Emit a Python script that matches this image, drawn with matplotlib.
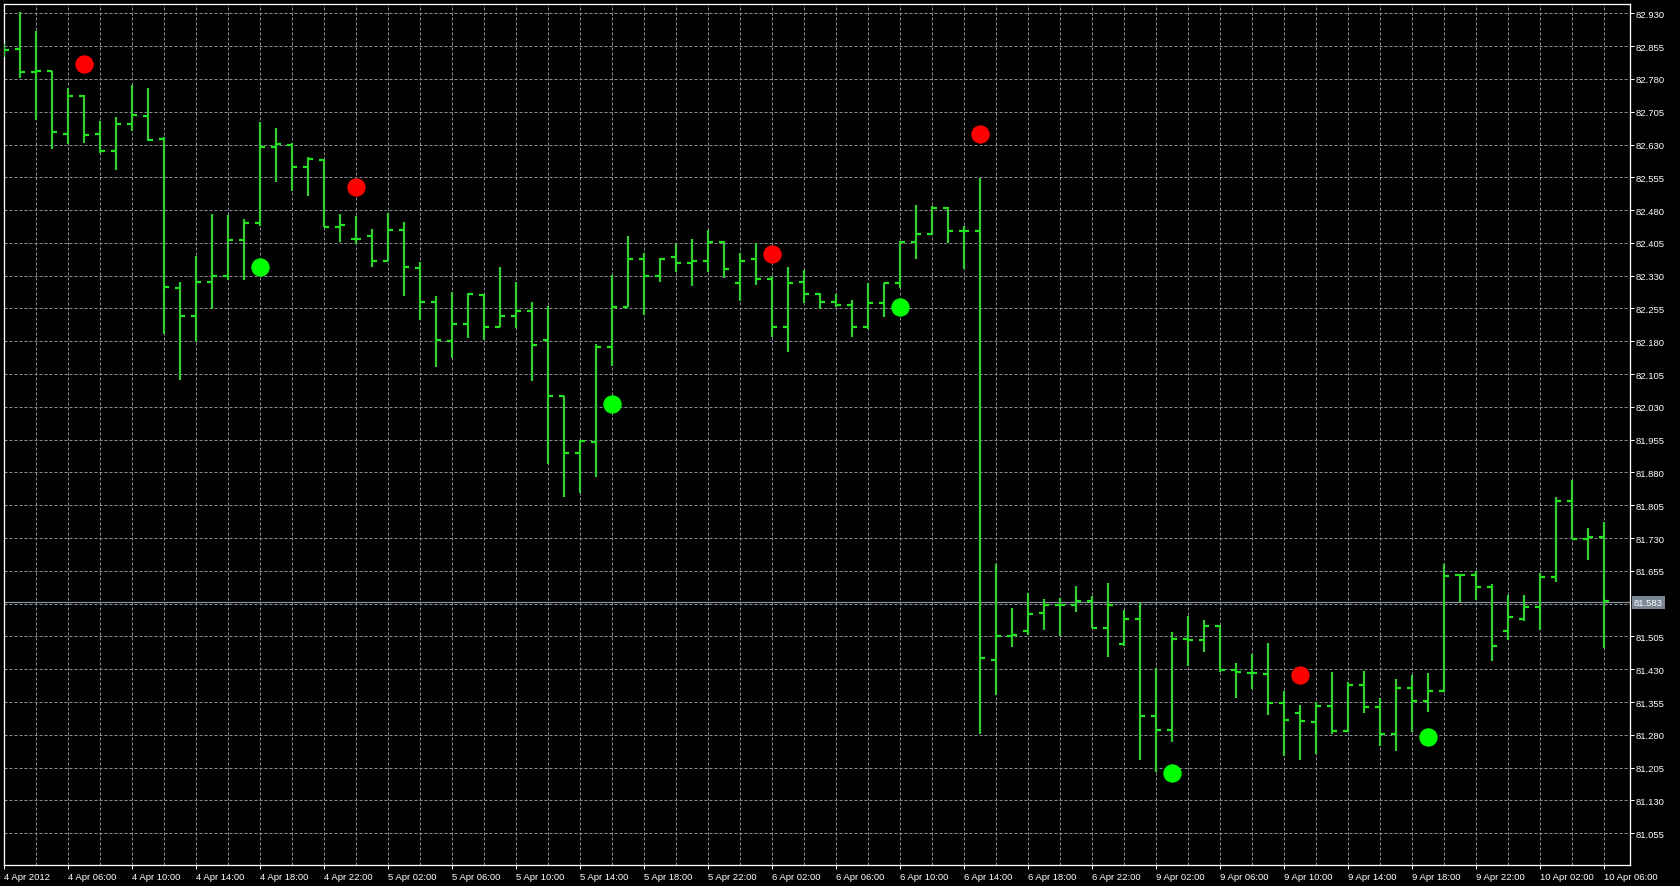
import matplotlib.pyplot as plt
import numpy as np

# hourly bars, 4 Apr 2012 02:00 .. 10 Apr 2012 06:00
opens = [82.840, 82.849, 82.796, 82.798, 82.655, 82.741, 82.655, 82.616, 82.678, 82.695,
         82.643, 82.303, 82.238, 82.316, 82.330, 82.412, 82.450, 82.625, 82.630, 82.579,
         82.595, 82.441, 82.414, 82.421, 82.364, 82.435, 82.348, 82.270, 82.181, 82.219,
         82.286, 82.213, 82.238, 82.250, 82.183, 82.056, 81.925, 81.950, 82.168, 82.259,
         82.368, 82.330, 82.372, 82.358, 82.364, 82.408, 82.313, 82.368, 82.322, 82.213,
         82.316, 82.287, 82.269, 82.264, 82.213, 82.267, 82.313, 82.406, 82.425, 82.484,
         82.433, 82.433, 81.451, 81.507, 81.518, 81.559, 81.577, 81.577, 81.585, 81.524,
         81.488, 81.545, 81.322, 81.291, 81.499, 81.497, 81.530, 81.428, 81.421, 81.419,
         81.352, 81.329, 81.310, 81.347, 81.289, 81.394, 81.343, 81.282, 81.387, 81.358,
         81.381, 81.646, 81.646, 81.617, 81.518, 81.544, 81.573, 81.640, 81.815, 81.729,
         81.732]
highs = [82.860, 82.932, 82.890, 82.798, 82.760, 82.743, 82.684, 82.692, 82.767, 82.760,
         82.647, 82.315, 82.374, 82.471, 82.469, 82.460, 82.681, 82.667, 82.633, 82.601,
         82.595, 82.471, 82.467, 82.437, 82.473, 82.453, 82.361, 82.284, 82.292, 82.290,
         82.287, 82.349, 82.315, 82.269, 82.260, 82.056, 81.955, 82.174, 82.332, 82.421,
         82.382, 82.370, 82.402, 82.414, 82.434, 82.410, 82.383, 82.404, 82.329, 82.349,
         82.343, 82.290, 82.288, 82.274, 82.313, 82.313, 82.410, 82.492, 82.489, 82.486,
         82.444, 82.553, 81.671, 81.570, 81.604, 81.590, 81.593, 81.620, 81.597, 81.627,
         81.565, 81.582, 81.434, 81.515, 81.551, 81.543, 81.532, 81.444, 81.466, 81.489,
         81.380, 81.349, 81.354, 81.423, 81.402, 81.425, 81.364, 81.408, 81.417, 81.421,
         81.671, 81.648, 81.655, 81.625, 81.600, 81.600, 81.650, 81.823, 81.863, 81.752,
         81.766]
lows = [82.830, 82.781, 82.686, 82.620, 82.632, 82.634, 82.610, 82.571, 82.661, 82.638,
        82.197, 82.092, 82.178, 82.254, 82.321, 82.321, 82.443, 82.545, 82.524, 82.513,
        82.441, 82.408, 82.402, 82.349, 82.364, 82.283, 82.229, 82.121, 82.141, 82.187,
        82.184, 82.213, 82.210, 82.090, 81.899, 81.823, 81.833, 81.869, 82.124, 82.258,
        82.240, 82.315, 82.339, 82.307, 82.339, 82.324, 82.273, 82.309, 82.189, 82.156,
        82.267, 82.253, 82.258, 82.189, 82.208, 82.235, 82.301, 82.368, 82.422, 82.405,
        82.345, 81.282, 81.372, 81.482, 81.509, 81.520, 81.505, 81.562, 81.524, 81.457,
        81.484, 81.223, 81.194, 81.263, 81.437, 81.469, 81.423, 81.364, 81.386, 81.326,
        81.232, 81.223, 81.236, 81.282, 81.286, 81.330, 81.254, 81.243, 81.287, 81.332,
        81.379, 81.584, 81.589, 81.450, 81.498, 81.541, 81.520, 81.629, 81.729, 81.681,
        81.479]
closes = [82.847, 82.796, 82.798, 82.658, 82.741, 82.652, 82.616, 82.678, 82.697, 82.640,
          82.305, 82.238, 82.316, 82.330, 82.412, 82.450, 82.625, 82.631, 82.579, 82.597,
          82.441, 82.446, 82.414, 82.364, 82.435, 82.349, 82.270, 82.183, 82.219, 82.288,
          82.213, 82.238, 82.250, 82.172, 82.056, 81.925, 81.953, 82.168, 82.259, 82.368,
          82.330, 82.368, 82.358, 82.363, 82.408, 82.345, 82.364, 82.322, 82.213, 82.313,
          82.287, 82.269, 82.264, 82.213, 82.267, 82.313, 82.406, 82.425, 82.484, 82.433,
          82.433, 81.456, 81.507, 81.509, 81.556, 81.578, 81.577, 81.585, 81.524, 81.577,
          81.545, 81.322, 81.291, 81.499, 81.497, 81.530, 81.428, 81.424, 81.421, 81.352,
          81.314, 81.311, 81.347, 81.288, 81.394, 81.343, 81.282, 81.387, 81.357, 81.381,
          81.643, 81.646, 81.617, 81.484, 81.550, 81.573, 81.640, 81.815, 81.729, 81.732,
          81.585]

# signal dots (bar index, price)
sell_bars = [5, 22, 48, 61, 81]
sell_prices = [82.814, 82.532, 82.380, 82.654, 81.417]
buy_bars = [16, 38, 56, 73, 89]
buy_prices = [82.349, 82.037, 82.258, 81.192, 81.274]

bid = 81.583

time_labels = ['4 Apr 2012', '4 Apr 06:00', '4 Apr 10:00', '4 Apr 14:00', '4 Apr 18:00',
               '4 Apr 22:00', '5 Apr 02:00', '5 Apr 06:00', '5 Apr 10:00', '5 Apr 14:00',
               '5 Apr 18:00', '5 Apr 22:00', '6 Apr 02:00', '6 Apr 06:00', '6 Apr 10:00',
               '6 Apr 14:00', '6 Apr 18:00', '6 Apr 22:00', '9 Apr 02:00', '9 Apr 06:00',
               '9 Apr 10:00', '9 Apr 14:00', '9 Apr 18:00', '9 Apr 22:00', '10 Apr 02:00',
               '10 Apr 06:00']
price_ticks = [81.055, 81.130, 81.205, 81.280, 81.355, 81.430, 81.505, 81.655,
               81.730, 81.805, 81.880, 81.955, 82.030, 82.105, 82.180, 82.255, 82.330,
               82.405, 82.480, 82.555, 82.630, 82.705, 82.780, 82.855, 82.930]
grid_prices = [81.055, 81.130, 81.205, 81.280, 81.355, 81.430, 81.505, 81.580,
               81.655, 81.730, 81.805, 81.880, 81.955, 82.030, 82.105, 82.180, 82.255,
               82.330, 82.405, 82.480, 82.555, 82.630, 82.705, 82.780, 82.855, 82.930]

plt.rcParams['font.family'] = ['Liberation Sans', 'DejaVu Sans']

fig = plt.figure(figsize=(16.8, 8.87), dpi=100, facecolor='black')
ax = fig.add_axes([4 / 1680, 21 / 887, 1626 / 1680, 861 / 887])
ax.set_facecolor('black')

x = np.arange(len(opens))
px = 0.72  # one pixel in points
tick_w = 0.33

# grid
grid_kw = dict(color='#8a8f96', linewidth=px, linestyle=(0, (3, 2)), zorder=1)
for xv in range(0, len(opens), 2):
    ax.axvline(xv, **grid_kw)
for yv in grid_prices:
    ax.axhline(yv, **grid_kw)

# bid line
ax.axhline(bid, color='#8a96a3', linewidth=1.2 * px, zorder=2)

# OHLC bars
ax.vlines(x, lows, highs, color='#36cc36', linewidth=2.2 * px, zorder=3)
ax.hlines(opens, x - tick_w, x, color='#1ee61e', linewidth=2.2 * px, zorder=3)
ax.hlines(closes, x, x + tick_w, color='#1ee61e', linewidth=2.2 * px, zorder=3)

# signals
ax.scatter(sell_bars, sell_prices, s=175, color='#ff0000', linewidths=0, zorder=4)
ax.scatter(buy_bars, buy_prices, s=175, color='#00ff00', linewidths=0, zorder=4)

ax.set_xlim(0, 101.625)
ax.set_ylim(80.9824, 82.9513)

# axes styles
for sp in ax.spines.values():
    sp.set_color('white')
    sp.set_linewidth(1.3 * px)

ax.yaxis.tick_right()
ax.set_yticks(price_ticks, [f'{v:.3f}' for v in price_ticks])
ax.set_xticks(range(0, len(opens), 4), time_labels)
ax.tick_params(axis='both', colors='white', labelcolor='white', labelsize=6.8,
               width=px, length=4 * px)
ax.tick_params(axis='y', pad=1)
ax.tick_params(axis='x', pad=2)
for lbl in ax.get_xticklabels():
    lbl.set_horizontalalignment('left')

ax.annotate(f'{bid:.3f}', xy=(1, bid), xycoords=('axes fraction', 'data'),
            xytext=(4, 0), textcoords='offset pixels', va='center', ha='left',
            fontsize=6.8, color='white',
            bbox=dict(boxstyle='square,pad=0.2', facecolor='#7a8794', edgecolor='none'))

fig.savefig('out.png', dpi=100, facecolor='black')
